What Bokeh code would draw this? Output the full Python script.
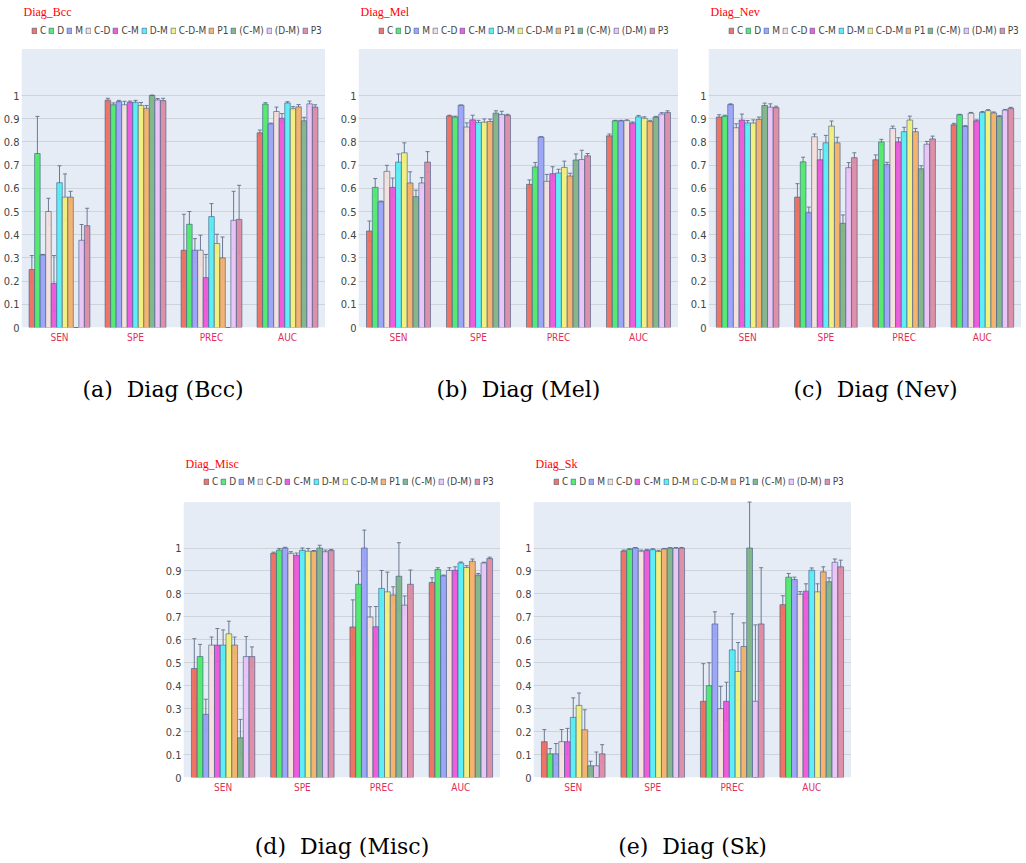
from bokeh.plotting import figure
from bokeh.models import (FactorRange, Range1d, ColumnDataSource, Whisker, Legend, LegendItem,
                          FixedTicker, CustomJSTickFormatter, Spacer, BoxAnnotation)
from bokeh.layouts import row, column
from bokeh.transform import dodge
from bokeh.embed import file_html
from bokeh.resources import INLINE

metrics = ["SEN", "SPE", "PREC", "AUC"]
series = ["C", "D", "M", "C-D", "C-M", "D-M", "C-D-M", "P1", "(C-M)", "(D-M)", "P3"]
colors = ["#EE6E5E", "#4EEA6A", "#9AA2F8", "#F4DFDA", "#EE55DA", "#55EEF5",
          "#F2F07A", "#F4B168", "#7FB487", "#E9C4F4", "#DC8BA2"]
y_ticks = [0, 0.1, 0.2, 0.3, 0.4, 0.5, 0.6, 0.7, 0.8, 0.9, 1.0]
y_top = 1.2  # top of the shaded plotting area

# ---- Diag_Bcc ----
bcc_sen = [0.25, 0.75, 0.313, 0.50, 0.19, 0.624, 0.562, 0.562, 0.0, 0.376, 0.439]
bcc_sen_err = [0.06, 0.16, 0.002, 0.057, 0.12, 0.073, 0.10, 0.025, 0.0, 0.068, 0.075]
bcc_spe = [0.980, 0.960, 0.974, 0.960, 0.971, 0.971, 0.957, 0.945, 1.0, 0.981, 0.978]
bcc_spe_err = [0.008, 0.008, 0.005, 0.015, 0.005, 0.008, 0.013, 0.012, 0.002, 0.006, 0.01]
bcc_prec = [0.333, 0.445, 0.333, 0.333, 0.215, 0.478, 0.362, 0.30, 0.0, 0.462, 0.466]
bcc_prec_err = [0.155, 0.055, 0.05, 0.065, 0.10, 0.056, 0.04, 0.09, 0.0, 0.125, 0.147]
bcc_auc = [0.839, 0.963, 0.878, 0.931, 0.902, 0.968, 0.943, 0.951, 0.891, 0.964, 0.950]
bcc_auc_err = [0.012, 0.006, 0.003, 0.019, 0.02, 0.005, 0.009, 0.01, 0.015, 0.012, 0.01]

# ---- Diag_Mel ----
mel_sen = [0.416, 0.604, 0.542, 0.673, 0.604, 0.713, 0.753, 0.623, 0.564, 0.623, 0.713]
mel_sen_err = [0.043, 0.038, 0.003, 0.026, 0.04, 0.035, 0.043, 0.048, 0.028, 0.023, 0.045]
mel_spe = [0.912, 0.907, 0.958, 0.864, 0.895, 0.884, 0.885, 0.888, 0.924, 0.918, 0.915]
mel_spe_err = [0.003, 0.004, 0.001, 0.018, 0.02, 0.009, 0.014, 0.01, 0.01, 0.014, 0.004]
mel_prec = [0.617, 0.692, 0.821, 0.63, 0.663, 0.666, 0.69, 0.653, 0.722, 0.724, 0.74]
mel_prec_err = [0.019, 0.019, 0.001, 0.03, 0.03, 0.016, 0.027, 0.012, 0.026, 0.04, 0.01]
mel_auc = [0.826, 0.891, 0.891, 0.892, 0.882, 0.908, 0.902, 0.888, 0.907, 0.92, 0.927]
mel_auc_err = [0.008, 0.002, 0.002, 0.003, 0.004, 0.006, 0.006, 0.005, 0.003, 0.006, 0.007]

# ---- Diag_Nev ----
nev_sen = [0.907, 0.911, 0.961, 0.861, 0.894, 0.882, 0.881, 0.897, 0.957, 0.95, 0.948]
nev_sen_err = [0.01, 0.004, 0.003, 0.017, 0.026, 0.01, 0.014, 0.01, 0.01, 0.014, 0.006]
nev_spe = [0.562, 0.714, 0.495, 0.822, 0.723, 0.796, 0.868, 0.796, 0.449, 0.689, 0.732]
nev_spe_err = [0.058, 0.02, 0.024, 0.012, 0.044, 0.032, 0.022, 0.024, 0.036, 0.022, 0.021]
nev_prec = [0.723, 0.80, 0.702, 0.858, 0.80, 0.844, 0.894, 0.844, 0.684, 0.79, 0.813]
nev_prec_err = [0.021, 0.011, 0.01, 0.01, 0.018, 0.019, 0.017, 0.014, 0.013, 0.012, 0.012]
nev_auc = [0.874, 0.917, 0.867, 0.924, 0.891, 0.927, 0.935, 0.925, 0.91, 0.937, 0.945]
nev_auc_err = [0.006, 0.002, 0.003, 0.003, 0.004, 0.004, 0.004, 0.004, 0.003, 0.003, 0.004]

# ---- Diag_Misc ----
misc_sen = [0.475, 0.527, 0.275, 0.577, 0.577, 0.577, 0.626, 0.577, 0.173, 0.527, 0.527]
misc_sen_err = [0.13, 0.053, 0.066, 0.035, 0.072, 0.066, 0.055, 0.035, 0.08, 0.087, 0.042]
misc_spe = [0.977, 0.991, 1.0, 0.977, 0.968, 0.99, 0.986, 0.986, 1.0, 0.984, 0.99]
misc_spe_err = [0.005, 0.007, 0.003, 0.007, 0.01, 0.01, 0.012, 0.003, 0.012, 0.007, 0.004]
misc_prec = [0.656, 0.842, 1.0, 0.699, 0.657, 0.824, 0.809, 0.795, 0.877, 0.751, 0.842]
misc_prec_err = [0.118, 0.057, 0.078, 0.045, 0.088, 0.078, 0.086, 0.036, 0.146, 0.04, 0.062]
misc_auc = [0.85, 0.906, 0.879, 0.902, 0.903, 0.935, 0.915, 0.942, 0.882, 0.935, 0.954]
misc_auc_err = [0.02, 0.008, 0.003, 0.012, 0.015, 0.004, 0.008, 0.01, 0.007, 0.003, 0.006]

# ---- Diag_Sk ----
sk_sen = [0.156, 0.103, 0.103, 0.156, 0.156, 0.262, 0.314, 0.208, 0.051, 0.051, 0.103]
sk_sen_err = [0.053, 0.023, 0.045, 0.053, 0.058, 0.085, 0.054, 0.087, 0.02, 0.06, 0.04]
sk_spe = [0.987, 0.994, 1.0, 0.986, 0.99, 0.993, 0.985, 0.996, 1.0, 0.999, 1.0]
sk_spe_err = [0.004, 0.003, 0.002, 0.005, 0.004, 0.004, 0.005, 0.002, 0.001, 0.003, 0.002]
sk_prec = [0.332, 0.40, 0.669, 0.30, 0.332, 0.556, 0.462, 0.571, 1.0, 0.332, 0.669]
sk_prec_err = [0.164, 0.10, 0.053, 0.097, 0.083, 0.157, 0.126, 0.103, 0.40, 0.333, 0.245]
sk_auc = [0.753, 0.873, 0.863, 0.798, 0.812, 0.903, 0.809, 0.896, 0.853, 0.938, 0.918]
sk_auc_err = [0.039, 0.016, 0.01, 0.012, 0.032, 0.01, 0.035, 0.022, 0.017, 0.014, 0.029]

BG = "#E5ECF6"
GRID = "#cfd3da"
NARROW = "DejaVu Sans Condensed"
N = len(series)
GROUP = 0.8
BW = GROUP / N
FRAME_H = 308
NB = "\u00a0"


def make_panel(name, caption, vals, errs, frame_w, mbl, mbt, mbb, height,
               px_per_unit, leg_x, leg_y, cap_standoff):
    width = mbl + frame_w
    p = figure(x_range=FactorRange(factors=metrics),
               y_range=Range1d(0, FRAME_H / px_per_unit),
               width=width, height=height, output_backend="svg", toolbar_location=None,
               min_border_left=mbl, min_border_right=0, min_border_top=mbt,
               min_border_bottom=mbb, background_fill_color="white",
               border_fill_color="white", outline_line_color=None)
    p.title.text = name
    p.title.text_color = "#FF0000"
    p.title.text_font = "Liberation Serif"
    p.title.text_font_size = "12px"
    p.title.text_font_style = "normal"
    p.title.offset = 2
    p.title.standoff = 2

    # shaded plotting area (0 .. y_top), drawn beneath grid and bars
    p.add_layout(BoxAnnotation(bottom=0, top=y_top, fill_color=BG, fill_alpha=1.0,
                               line_color=None, level="image"))

    items = []
    for i, s in enumerate(series):
        tops = [v[i] for v in vals]
        es = [e[i] for e in errs]
        src = ColumnDataSource(dict(metric=metrics, top=tops,
                                    upper=[min(t + e, y_top) for t, e in zip(tops, es)],
                                    lower=[max(t - e, 0) for t, e in zip(tops, es)]))
        off = -GROUP / 2 + (i + 0.5) * BW
        r = p.vbar(x=dodge("metric", off, range=p.x_range), top="top", width=BW,
                   source=src, fill_color=colors[i], fill_alpha=0.95,
                   line_color="#3e5a86", line_alpha=0.6, line_width=1)
        w = Whisker(base=dodge("metric", off, range=p.x_range), upper="upper",
                    lower="lower", source=src, line_color="#6b7a92", line_width=1)
        w.upper_head.size = 4
        w.lower_head.size = 4
        w.upper_head.line_color = "#6b7a92"
        w.lower_head.line_color = "#6b7a92"
        p.add_layout(w)
        items.append(LegendItem(label=s, renderers=[r]))

    leg = Legend(items=items, orientation="horizontal", location=(leg_x, leg_y),
                 glyph_width=6, glyph_height=7, label_standoff=3, spacing=2,
                 padding=0, margin=0, label_width=4, label_height=12,
                 label_text_font=NARROW, label_text_font_size="10px",
                 label_text_color="#444444", background_fill_alpha=0,
                 border_line_alpha=0)
    p.add_layout(leg, "center")

    p.yaxis.ticker = FixedTicker(ticks=y_ticks)
    p.yaxis.formatter = CustomJSTickFormatter(code="return String(Math.round(tick*10)/10);")
    p.yaxis.axis_line_color = None
    p.yaxis.major_tick_line_color = None
    p.yaxis.minor_tick_line_color = None
    p.yaxis.major_tick_out = 0
    p.yaxis.major_tick_in = 0
    p.yaxis.minor_tick_out = 0
    p.yaxis.major_label_standoff = 2
    p.yaxis.major_label_text_font = NARROW
    p.yaxis.major_label_text_font_size = "11px"
    p.yaxis.major_label_text_color = "#444444"

    p.xaxis.axis_line_color = None
    p.xaxis.major_tick_line_color = None
    p.xaxis.major_tick_out = 0
    p.xaxis.major_tick_in = 0
    p.xaxis.major_label_standoff = 4
    p.xaxis.major_label_text_font = NARROW
    p.xaxis.major_label_text_font_size = "10px"
    p.xaxis.major_label_text_color = "#E0305A"

    # sub-figure caption
    p.xaxis.axis_label = caption
    p.xaxis.axis_label_text_font = "DejaVu Serif"
    p.xaxis.axis_label_text_font_size = "22px"
    p.xaxis.axis_label_text_font_style = "normal"
    p.xaxis.axis_label_text_color = "black"
    p.xaxis.axis_label_standoff = cap_standoff

    p.ygrid.ticker = FixedTicker(ticks=y_ticks)
    p.ygrid.grid_line_color = GRID
    p.xgrid.grid_line_color = None
    return p


H1 = 452
H2 = 409
MBT = 19
MB1 = H1 - MBT - FRAME_H
MB2 = H2 - MBT - FRAME_H
pa = make_panel("Diag_Bcc", "(a)" + NB + NB + "Diag (Bcc)" + NB + NB + NB,
                [bcc_sen, bcc_spe, bcc_prec, bcc_auc],
                [bcc_sen_err, bcc_spe_err, bcc_prec_err, bcc_auc_err],
                308, 17, MBT, MB1, H1, 232, 10, 291, 31)
pb = make_panel("Diag_Mel", "(b)" + NB + NB + "Diag (Mel)",
                [mel_sen, mel_spe, mel_prec, mel_auc],
                [mel_sen_err, mel_spe_err, mel_prec_err, mel_auc_err],
                320, 33, MBT, MB1, H1, 232, 20, 291, 31)
pc = make_panel("Diag_Nev", NB + NB + NB + "(c)" + NB + NB + "Diag (Nev)",
                [nev_sen, nev_spe, nev_prec, nev_auc],
                [nev_sen_err, nev_spe_err, nev_prec_err, nev_auc_err],
                313, 30, MBT, MB1, H1, 232, 20, 291, 31)
pd = make_panel("Diag_Misc", "(d)" + NB + NB + "Diag (Misc)",
                [misc_sen, misc_spe, misc_prec, misc_auc],
                [misc_sen_err, misc_spe_err, misc_prec_err, misc_auc_err],
                318, 20, MBT, MB2, H2, 231, 20, 290, 38)
pe = make_panel("Diag_Sk", "(e)" + NB + NB + "Diag (Sk)",
                [sk_sen, sk_spe, sk_prec, sk_auc],
                [sk_sen_err, sk_spe_err, sk_prec_err, sk_auc_err],
                318, 33, MBT, MB2, H2, 231, 20, 290, 38)

layout = column(row(pa, pb, pc), row(Spacer(width=162, height=H2), pd, pe))
open("out.html", "w").write(file_html(layout, INLINE))
